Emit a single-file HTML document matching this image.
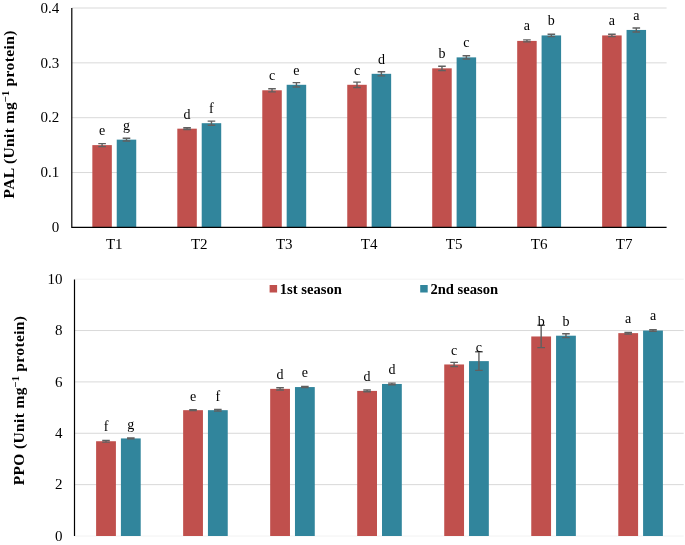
<!DOCTYPE html>
<html><head><meta charset="utf-8"><style>
html,body{margin:0;padding:0;background:#fff;}
body{width:685px;height:545px;overflow:hidden;}
svg{display:block;}
.wrap{will-change:transform;}
.t{font-family:"Liberation Serif", serif;font-size:14px;fill:#000;}
.n{font-family:"Liberation Serif", serif;font-size:15px;fill:#000;}
.b{font-family:"Liberation Serif", serif;font-size:14px;font-weight:bold;fill:#000;}
</style></head><body>
<div class="wrap"><svg width="685" height="545" viewBox="0 0 685 545">
<rect width="685" height="545" fill="#fff"/>
<line x1="71.8" y1="172.55" x2="666.6" y2="172.55" stroke="#D9D9D9" stroke-width="1"/>
<line x1="71.8" y1="117.7" x2="666.6" y2="117.7" stroke="#D9D9D9" stroke-width="1"/>
<line x1="71.8" y1="62.85000000000002" x2="666.6" y2="62.85000000000002" stroke="#D9D9D9" stroke-width="1"/>
<line x1="71.8" y1="8.0" x2="666.6" y2="8.0" stroke="#D9D9D9" stroke-width="1"/>
<text x="59.3" y="232.10" text-anchor="end" class="n">0</text>
<text x="59.3" y="177.25" text-anchor="end" class="n">0.1</text>
<text x="59.3" y="122.40" text-anchor="end" class="n">0.2</text>
<text x="59.3" y="67.55" text-anchor="end" class="n">0.3</text>
<text x="59.3" y="12.70" text-anchor="end" class="n">0.4</text>
<rect x="92.34" y="145.12" width="19.5" height="82.28" fill="#C0504D"/>
<path d="M102.09 143.62V146.62M98.29 143.62h7.6M98.29 146.62h7.6" stroke="#606060" stroke-width="1.4" fill="none"/>
<text x="102.09" y="134.83" text-anchor="middle" class="t">e</text>
<rect x="116.74" y="139.64" width="19.5" height="87.76" fill="#31859C"/>
<path d="M126.49 138.24V141.04M122.69 138.24h7.6M122.69 141.04h7.6" stroke="#606060" stroke-width="1.4" fill="none"/>
<text x="126.49" y="130.24" text-anchor="middle" class="t">g</text>
<text x="114.29" y="248.6" text-anchor="middle" class="n">T1</text>
<rect x="177.31" y="128.67" width="19.5" height="98.73" fill="#C0504D"/>
<path d="M187.06 127.77V129.57M183.26 127.77h7.6M183.26 129.57h7.6" stroke="#606060" stroke-width="1.4" fill="none"/>
<text x="187.06" y="118.87" text-anchor="middle" class="t">d</text>
<rect x="201.71" y="123.19" width="19.5" height="104.21" fill="#31859C"/>
<path d="M211.46 121.09V125.29M207.66 121.09h7.6M207.66 125.29h7.6" stroke="#606060" stroke-width="1.4" fill="none"/>
<text x="211.46" y="112.99" text-anchor="middle" class="t">f</text>
<text x="199.26" y="248.6" text-anchor="middle" class="n">T2</text>
<rect x="262.28" y="90.28" width="19.5" height="137.12" fill="#C0504D"/>
<path d="M272.03 88.68V91.88M268.23 88.68h7.6M268.23 91.88h7.6" stroke="#606060" stroke-width="1.4" fill="none"/>
<text x="272.03" y="79.88" text-anchor="middle" class="t">c</text>
<rect x="286.68" y="84.79" width="19.5" height="142.61" fill="#31859C"/>
<path d="M296.43 82.59V86.99M292.63 82.59h7.6M292.63 86.99h7.6" stroke="#606060" stroke-width="1.4" fill="none"/>
<text x="296.43" y="74.99" text-anchor="middle" class="t">e</text>
<text x="284.23" y="248.6" text-anchor="middle" class="n">T3</text>
<rect x="347.25" y="84.79" width="19.5" height="142.61" fill="#C0504D"/>
<path d="M357.00 82.09V87.49M353.20 82.09h7.6M353.20 87.49h7.6" stroke="#606060" stroke-width="1.4" fill="none"/>
<text x="357.00" y="75.09" text-anchor="middle" class="t">c</text>
<rect x="371.65" y="73.82" width="19.5" height="153.58" fill="#31859C"/>
<path d="M381.40 71.72V75.92M377.60 71.72h7.6M377.60 75.92h7.6" stroke="#606060" stroke-width="1.4" fill="none"/>
<text x="381.40" y="63.72" text-anchor="middle" class="t">d</text>
<text x="369.20" y="248.6" text-anchor="middle" class="n">T4</text>
<rect x="432.22" y="68.34" width="19.5" height="159.06" fill="#C0504D"/>
<path d="M441.97 66.24V70.44M438.17 66.24h7.6M438.17 70.44h7.6" stroke="#606060" stroke-width="1.4" fill="none"/>
<text x="441.97" y="58.14" text-anchor="middle" class="t">b</text>
<rect x="456.62" y="57.37" width="19.5" height="170.03" fill="#31859C"/>
<path d="M466.37 55.77V58.97M462.57 55.77h7.6M462.57 58.97h7.6" stroke="#606060" stroke-width="1.4" fill="none"/>
<text x="466.37" y="47.07" text-anchor="middle" class="t">c</text>
<text x="454.17" y="248.6" text-anchor="middle" class="n">T5</text>
<rect x="517.19" y="40.91" width="19.5" height="186.49" fill="#C0504D"/>
<path d="M526.94 39.91V41.91M523.14 39.91h7.6M523.14 41.91h7.6" stroke="#606060" stroke-width="1.4" fill="none"/>
<text x="526.94" y="30.21" text-anchor="middle" class="t">a</text>
<rect x="541.59" y="35.43" width="19.5" height="191.97" fill="#31859C"/>
<path d="M551.34 34.23V36.63M547.54 34.23h7.6M547.54 36.63h7.6" stroke="#606060" stroke-width="1.4" fill="none"/>
<text x="551.34" y="25.13" text-anchor="middle" class="t">b</text>
<text x="539.14" y="248.6" text-anchor="middle" class="n">T6</text>
<rect x="602.16" y="35.43" width="19.5" height="191.97" fill="#C0504D"/>
<path d="M611.91 34.23V36.63M608.11 34.23h7.6M608.11 36.63h7.6" stroke="#606060" stroke-width="1.4" fill="none"/>
<text x="611.91" y="25.13" text-anchor="middle" class="t">a</text>
<rect x="626.56" y="29.94" width="19.5" height="197.46" fill="#31859C"/>
<path d="M636.31 27.94V31.94M632.51 27.94h7.6M632.51 31.94h7.6" stroke="#606060" stroke-width="1.4" fill="none"/>
<text x="636.31" y="19.64" text-anchor="middle" class="t">a</text>
<text x="624.11" y="248.6" text-anchor="middle" class="n">T7</text>
<path d="M71.8 8.0V227.4H666.6" stroke="#000" stroke-width="1.2" fill="none"/>
<text transform="translate(14.1,114.35) rotate(-90)" text-anchor="middle" class="b" style="font-size:15.5px;letter-spacing:0.4px">PAL (Unit mg<tspan dy="-5" style="font-size:10.5px;letter-spacing:0.0px">−1</tspan><tspan dy="5" style="letter-spacing:0.4px"> protein)</tspan></text>
<line x1="74.5" y1="536.0" x2="683.7" y2="536.0" stroke="#F2F2F2" stroke-width="1"/>
<line x1="74.5" y1="279.2" x2="683.7" y2="279.2" stroke="#F2F2F2" stroke-width="1"/>
<line x1="74.5" y1="484.64" x2="683.7" y2="484.64" stroke="#D9D9D9" stroke-width="1"/>
<line x1="74.5" y1="433.28" x2="683.7" y2="433.28" stroke="#D9D9D9" stroke-width="1"/>
<line x1="74.5" y1="381.91999999999996" x2="683.7" y2="381.91999999999996" stroke="#D9D9D9" stroke-width="1"/>
<line x1="74.5" y1="330.56" x2="683.7" y2="330.56" stroke="#D9D9D9" stroke-width="1"/>
<text x="62.6" y="540.70" text-anchor="end" class="n">0</text>
<text x="62.6" y="489.34" text-anchor="end" class="n">2</text>
<text x="62.6" y="437.98" text-anchor="end" class="n">4</text>
<text x="62.6" y="386.62" text-anchor="end" class="n">6</text>
<text x="62.6" y="335.26" text-anchor="end" class="n">8</text>
<text x="62.6" y="283.90" text-anchor="end" class="n">10</text>
<rect x="96.11" y="441.24" width="19.8" height="94.76" fill="#C0504D"/>
<path d="M106.01 440.34V442.14M102.21 440.34h7.6M102.21 442.14h7.6" stroke="#606060" stroke-width="1.4" fill="none"/>
<text x="106.01" y="431.02" text-anchor="middle" class="t">f</text>
<rect x="120.91" y="438.42" width="19.8" height="97.58" fill="#31859C"/>
<path d="M130.81 438.02V438.82M127.01 438.02h7.6M127.01 438.82h7.6" stroke="#606060" stroke-width="1.4" fill="none"/>
<text x="130.81" y="428.71" text-anchor="middle" class="t">g</text>
<rect x="183.14" y="410.17" width="19.8" height="125.83" fill="#C0504D"/>
<path d="M193.04 409.67V410.67M189.24 409.67h7.6M189.24 410.67h7.6" stroke="#606060" stroke-width="1.4" fill="none"/>
<text x="193.04" y="400.61" text-anchor="middle" class="t">e</text>
<rect x="207.94" y="410.17" width="19.8" height="125.83" fill="#31859C"/>
<path d="M217.84 409.37V410.97M214.04 409.37h7.6M214.04 410.97h7.6" stroke="#606060" stroke-width="1.4" fill="none"/>
<text x="217.84" y="400.50" text-anchor="middle" class="t">f</text>
<rect x="270.17" y="388.85" width="19.8" height="147.15" fill="#C0504D"/>
<path d="M280.07 387.75V389.95M276.27 387.75h7.6M276.27 389.95h7.6" stroke="#606060" stroke-width="1.4" fill="none"/>
<text x="280.07" y="378.90" text-anchor="middle" class="t">d</text>
<rect x="294.97" y="387.06" width="19.8" height="148.94" fill="#31859C"/>
<path d="M304.87 386.46V387.66M301.07 386.46h7.6M301.07 387.66h7.6" stroke="#606060" stroke-width="1.4" fill="none"/>
<text x="304.87" y="377.21" text-anchor="middle" class="t">e</text>
<rect x="357.20" y="390.91" width="19.8" height="145.09" fill="#C0504D"/>
<path d="M367.10 390.01V391.81M363.30 390.01h7.6M363.30 391.81h7.6" stroke="#606060" stroke-width="1.4" fill="none"/>
<text x="367.10" y="381.24" text-anchor="middle" class="t">d</text>
<rect x="382.00" y="383.97" width="19.8" height="152.03" fill="#31859C"/>
<path d="M391.90 383.17V384.77M388.10 383.17h7.6M388.10 384.77h7.6" stroke="#606060" stroke-width="1.4" fill="none"/>
<text x="391.90" y="374.34" text-anchor="middle" class="t">d</text>
<rect x="444.23" y="364.46" width="19.8" height="171.54" fill="#C0504D"/>
<path d="M454.13 362.36V366.56M450.33 362.36h7.6M450.33 366.56h7.6" stroke="#606060" stroke-width="1.4" fill="none"/>
<text x="454.13" y="354.93" text-anchor="middle" class="t">c</text>
<rect x="469.03" y="361.12" width="19.8" height="174.88" fill="#31859C"/>
<path d="M478.93 351.82V370.42M475.13 351.82h7.6M475.13 370.42h7.6" stroke="#606060" stroke-width="1.4" fill="none"/>
<text x="478.93" y="351.50" text-anchor="middle" class="t">c</text>
<rect x="531.26" y="336.47" width="19.8" height="199.53" fill="#C0504D"/>
<path d="M541.16 325.27V347.67M537.36 325.27h7.6M537.36 347.67h7.6" stroke="#606060" stroke-width="1.4" fill="none"/>
<text x="541.16" y="326.38" text-anchor="middle" class="t">b</text>
<rect x="556.06" y="335.70" width="19.8" height="200.30" fill="#31859C"/>
<path d="M565.96 333.80V337.60M562.16 333.80h7.6M562.16 337.60h7.6" stroke="#606060" stroke-width="1.4" fill="none"/>
<text x="565.96" y="326.01" text-anchor="middle" class="t">b</text>
<rect x="618.29" y="333.13" width="19.8" height="202.87" fill="#C0504D"/>
<path d="M628.19 332.33V333.93M624.39 332.33h7.6M624.39 333.93h7.6" stroke="#606060" stroke-width="1.4" fill="none"/>
<text x="628.19" y="323.25" text-anchor="middle" class="t">a</text>
<rect x="643.09" y="330.56" width="19.8" height="205.44" fill="#31859C"/>
<path d="M652.99 329.76V331.36M649.19 329.76h7.6M649.19 331.36h7.6" stroke="#606060" stroke-width="1.4" fill="none"/>
<text x="652.99" y="320.40" text-anchor="middle" class="t">a</text>
<line x1="74.5" y1="279.6" x2="74.5" y2="536.0" stroke="#000" stroke-width="1.2"/>
<text transform="translate(24.3,400.5) rotate(-90)" text-anchor="middle" class="b" style="font-size:15.5px;letter-spacing:0.36px">PPO (Unit mg<tspan dy="-5" style="font-size:10.5px;letter-spacing:0.0px">−1</tspan><tspan dy="5" style="letter-spacing:0.36px"> protein)</tspan></text>
<rect x="269.6" y="285" width="7.5" height="7.5" fill="#C0504D"/>
<text x="279.8" y="293.6" class="b" style="font-size:14.6px">1st season</text>
<rect x="420.2" y="285" width="7.5" height="7.5" fill="#31859C"/>
<text x="430.4" y="293.6" class="b" style="font-size:14.6px">2nd season</text>
</svg></div>
</body></html>
